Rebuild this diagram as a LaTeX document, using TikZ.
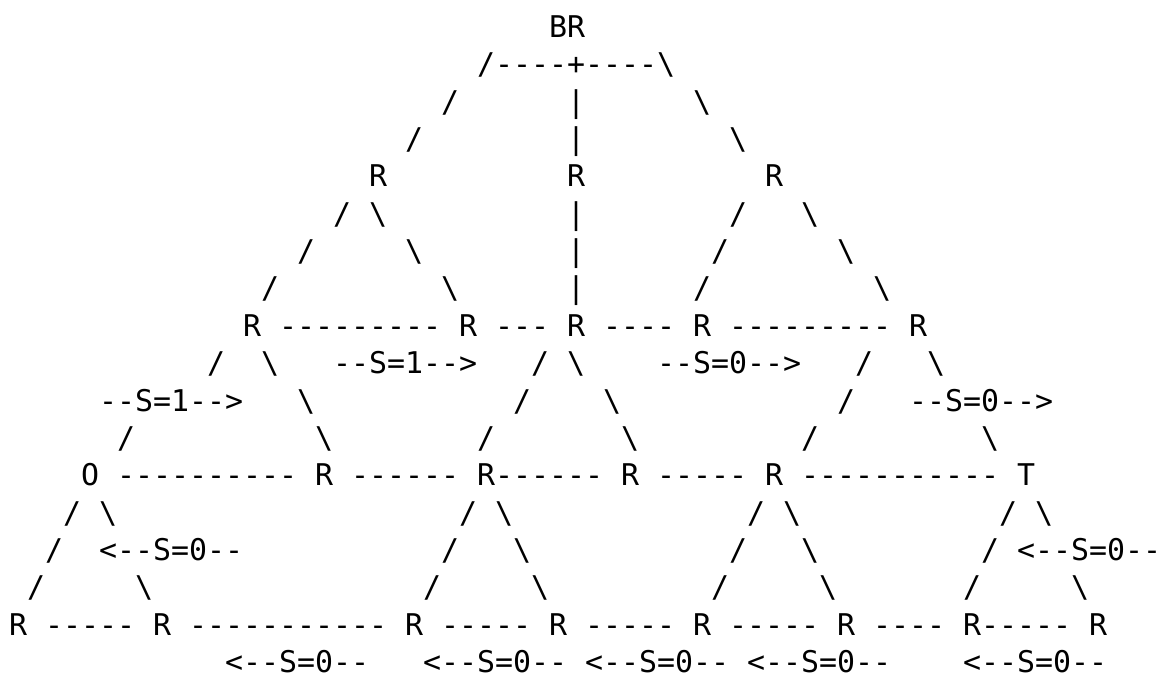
\documentclass[tikz,border=0pt]{standalone}
\usepackage{fontspec}
\setmonofont{DejaVu Sans Mono}
\newcommand\bs{\textbackslash}
\tikzset{txt/.style={anchor=base west,inner sep=0pt,outer sep=0pt,
  font=\ttfamily\fontsize{22.43pt}{22.43pt}\selectfont}}
\newcommand\T[4]{\node[txt] (#1) at ({9+18*#2},{37.5+37.35*(#3-1)}) {#4};}
\begin{document}
\begin{tikzpicture}[x=0.75pt,y=-0.75pt]
\fill[white] (0,0) rectangle (1159,681);
\useasboundingbox (0,0) rectangle (1159,681);
% row 1
\T{br}{30}{1}{BR}
% row 2
\T{r2a}{26}{2}{/----+----\bs}
% row 3
\T{r3a}{24}{3}{/}\T{r3b}{31}{3}{|}\T{r3c}{38}{3}{\bs}
% row 4
\T{r4a}{22}{4}{/}\T{r4b}{31}{4}{|}\T{r4c}{40}{4}{\bs}
% row 5
\T{n5a}{20}{5}{R}\T{n5b}{31}{5}{R}\T{n5c}{42}{5}{R}
% row 6
\T{r6a}{18}{6}{/}\T{r6b}{20}{6}{\bs}\T{r6c}{31}{6}{|}\T{r6d}{40}{6}{/}\T{r6e}{44}{6}{\bs}
% row 7
\T{r7a}{16}{7}{/}\T{r7b}{22}{7}{\bs}\T{r7c}{31}{7}{|}\T{r7d}{39}{7}{/}\T{r7e}{46}{7}{\bs}
% row 8
\T{r8a}{14}{8}{/}\T{r8b}{24}{8}{\bs}\T{r8c}{31}{8}{|}\T{r8d}{38}{8}{/}\T{r8e}{48}{8}{\bs}
% row 9
\T{n9a}{13}{9}{R}\T{d9a}{15}{9}{---------}\T{n9b}{25}{9}{R}\T{d9b}{27}{9}{---}
\T{n9c}{31}{9}{R}\T{d9c}{33}{9}{----}\T{n9d}{38}{9}{R}\T{d9d}{40}{9}{---------}\T{n9e}{50}{9}{R}
% row 10
\T{r10a}{11}{10}{/}\T{r10b}{14}{10}{\bs}\T{l10a}{18}{10}{--S=1-->}\T{r10c}{29}{10}{/}
\T{r10d}{31}{10}{\bs}\T{l10b}{36}{10}{--S=0-->}\T{r10e}{47}{10}{/}\T{r10f}{51}{10}{\bs}
% row 11
\T{l11a}{5}{11}{--S=1-->}\T{r11a}{16}{11}{\bs}\T{r11b}{28}{11}{/}\T{r11c}{33}{11}{\bs}
\T{r11d}{46}{11}{/}\T{l11b}{50}{11}{--S=0-->}
% row 12
\T{r12a}{6}{12}{/}\T{r12b}{17}{12}{\bs}\T{r12c}{26}{12}{/}\T{r12d}{34}{12}{\bs}
\T{r12e}{44}{12}{/}\T{r12f}{54}{12}{\bs}
% row 13
\T{n13a}{4}{13}{O}\T{d13a}{6}{13}{----------}\T{n13b}{17}{13}{R}\T{d13b}{19}{13}{------}
\T{n13c}{26}{13}{R}\T{d13c}{27}{13}{------}\T{n13d}{34}{13}{R}\T{d13d}{36}{13}{-----}
\T{n13e}{42}{13}{R}\T{d13e}{44}{13}{-----------}\T{n13f}{56}{13}{T}
% row 14
\T{r14a}{3}{14}{/}\T{r14b}{5}{14}{\bs}\T{r14c}{25}{14}{/}\T{r14d}{27}{14}{\bs}
\T{r14e}{41}{14}{/}\T{r14f}{43}{14}{\bs}\T{r14g}{55}{14}{/}\T{r14h}{57}{14}{\bs}
% row 15
\T{r15a}{2}{15}{/}\T{l15a}{5}{15}{<--S=0--}\T{r15b}{24}{15}{/}\T{r15c}{28}{15}{\bs}
\T{r15d}{40}{15}{/}\T{r15e}{44}{15}{\bs}\T{r15f}{54}{15}{/}\T{l15b}{56}{15}{<--S=0--}
% row 16
\T{r16a}{1}{16}{/}\T{r16b}{7}{16}{\bs}\T{r16c}{23}{16}{/}\T{r16d}{29}{16}{\bs}
\T{r16e}{39}{16}{/}\T{r16f}{45}{16}{\bs}\T{r16g}{53}{16}{/}\T{r16h}{59}{16}{\bs}
% row 17
\T{n17a}{0}{17}{R}\T{d17a}{2}{17}{-----}\T{n17b}{8}{17}{R}\T{d17b}{10}{17}{-----------}
\T{n17c}{22}{17}{R}\T{d17c}{24}{17}{-----}\T{n17d}{30}{17}{R}\T{d17d}{32}{17}{-----}
\T{n17e}{38}{17}{R}\T{d17e}{40}{17}{-----}\T{n17f}{46}{17}{R}\T{d17f}{48}{17}{----}
\T{n17g}{53}{17}{R}\T{d17g}{54}{17}{-----}\T{n17h}{60}{17}{R}
% row 18
\T{l18a}{12}{18}{<--S=0--}\T{l18b}{23}{18}{<--S=0--}\T{l18c}{32}{18}{<--S=0--}
\T{l18d}{41}{18}{<--S=0--}\T{l18e}{53}{18}{<--S=0--}
\end{tikzpicture}
\end{document}
